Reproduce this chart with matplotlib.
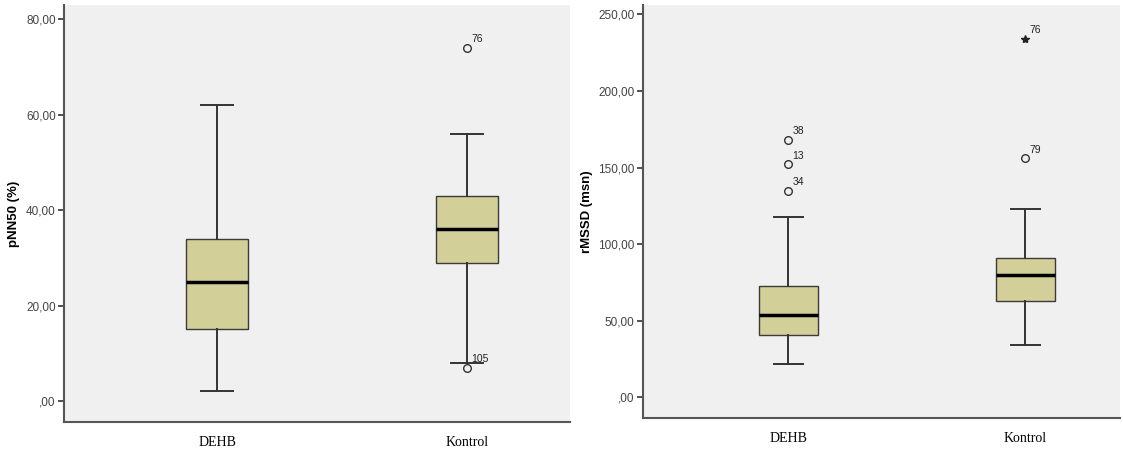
import matplotlib.pyplot as plt

groups = ["DEHB", "Kontrol"]

# pNN50 (%) box stats: whislo, q1, med, q3, whishi
pnn50_whislo = [2, 8]
pnn50_q1 = [15, 29]
pnn50_med = [25, 36]
pnn50_q3 = [34, 43]
pnn50_whishi = [62, 56]
pnn50_out_vals = [[], [74, 7]]
pnn50_out_ids = [[], ["76", "105"]]
pnn50_extreme_vals = [[], []]
pnn50_extreme_ids = [[], []]

# rMSSD (msn) box stats
rmssd_whislo = [22, 34]
rmssd_q1 = [41, 63]
rmssd_med = [54, 80]
rmssd_q3 = [73, 91]
rmssd_whishi = [118, 123]
rmssd_out_vals = [[168, 152, 135], [156]]
rmssd_out_ids = [["38", "13", "34"], ["79"]]
rmssd_extreme_vals = [[], [234]]
rmssd_extreme_ids = [[], ["76"]]

box_fill = "#d3cf98"
bg = "#f0f0f0"


def make_stats(lo, q1, med, q3, hi):
    stats = []
    for i in range(len(groups)):
        stats.append(dict(whislo=lo[i], q1=q1[i], med=med[i], q3=q3[i],
                          whishi=hi[i], fliers=[], label=groups[i]))
    return stats


def fmt(t):
    s = ("%.2f" % t).replace(".", ",")
    return s[1:] if t == 0 else s


def draw_panel(ax, stats, out_vals, out_ids, ext_vals, ext_ids, ylabel, yticks, ylim, xlim):
    ax.set_facecolor(bg)
    ax.bxp(stats, positions=[1, 2], widths=0.25, patch_artist=True,
           showfliers=False,
           boxprops=dict(facecolor=box_fill, edgecolor="#3a3a3a", linewidth=1.0),
           medianprops=dict(color="black", linewidth=2.5),
           whiskerprops=dict(color="#333333", linewidth=1.4),
           capprops=dict(color="#333333", linewidth=1.4),
           capwidths=0.125)
    for i, pos in enumerate([1, 2]):
        for v, lab in zip(out_vals[i], out_ids[i]):
            ax.plot(pos, v, "o", mfc="none", mec="#333333", ms=5.5, mew=1.0)
            ax.annotate(lab, (pos, v), xytext=(3, 4), textcoords="offset points",
                        fontsize=7.5, color="#222222")
        for v, lab in zip(ext_vals[i], ext_ids[i]):
            ax.plot(pos, v, "*", color="#222222", ms=6)
            ax.annotate(lab, (pos, v), xytext=(3, 4), textcoords="offset points",
                        fontsize=7.5, color="#222222")
    ax.set_xlim(*xlim)
    ax.set_ylim(*ylim)
    ax.set_yticks(yticks)
    ax.set_yticklabels([fmt(t) for t in yticks], fontsize=8.5, color="#444444")
    ax.set_xticks([1, 2])
    ax.set_xticklabels(groups, family="Liberation Serif", fontsize=10)
    ax.tick_params(axis="x", length=0, pad=10)
    ax.tick_params(axis="y", length=4, width=1.2, color="#333333", pad=2)
    ax.set_ylabel(ylabel, fontsize=9.5, fontweight="bold", labelpad=4)
    for s in ["top", "right"]:
        ax.spines[s].set_visible(False)
    for s in ["left", "bottom"]:
        ax.spines[s].set_color("#555555")
        ax.spines[s].set_linewidth(1.5)


fig = plt.figure(figsize=(11.23, 4.55), dpi=100)
plt.rcParams["font.family"] = ["Liberation Sans", "DejaVu Sans"]

ax1 = fig.add_axes([0.057, 0.0725, 0.4506, 0.9165])
ax2 = fig.add_axes([0.5726, 0.0813, 0.4248, 0.9077])

draw_panel(ax1, make_stats(pnn50_whislo, pnn50_q1, pnn50_med, pnn50_q3, pnn50_whishi),
           pnn50_out_vals, pnn50_out_ids, pnn50_extreme_vals, pnn50_extreme_ids,
           "pNN50 (%)", [0, 20, 40, 60, 80], (-4.4, 83), (0.388, 2.412))
draw_panel(ax2, make_stats(rmssd_whislo, rmssd_q1, rmssd_med, rmssd_q3, rmssd_whishi),
           rmssd_out_vals, rmssd_out_ids, rmssd_extreme_vals, rmssd_extreme_ids,
           "rMSSD (msn)", [0, 50, 100, 150, 200, 250], (-13.4, 256), (0.386, 2.40))

fig.savefig("out.png", dpi=100)
